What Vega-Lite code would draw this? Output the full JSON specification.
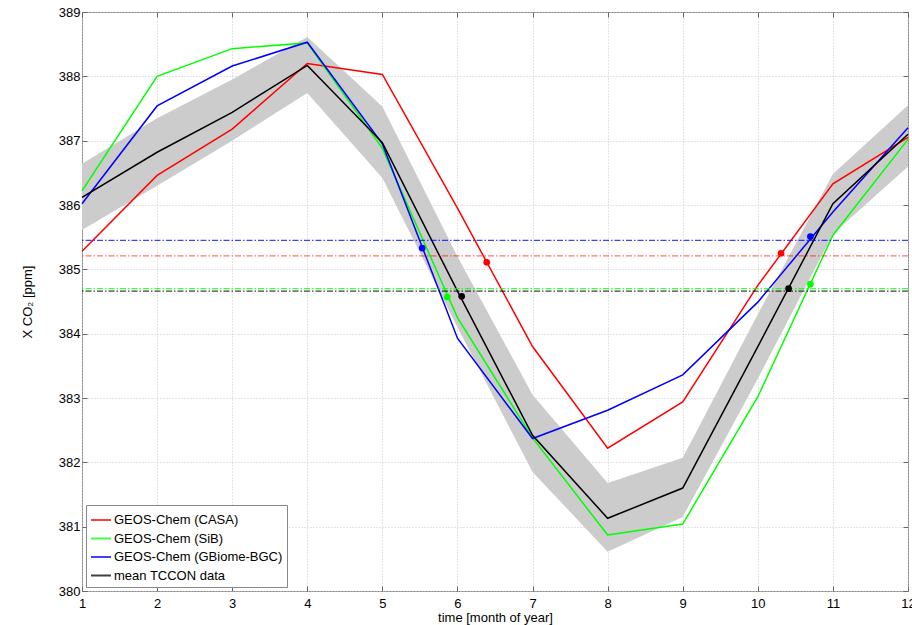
{
  "$schema": "https://vega.github.io/schema/vega-lite/v6.json",
  "width": 826,
  "height": 579,
  "autosize": {"type": "none"},
  "padding": {"left": 82, "top": 12, "right": 4, "bottom": 34},
  "background": "white",
  "config": {
    "font": "Liberation Sans",
    "view": {"stroke": "#888888", "strokeWidth": 1},
    "axis": {
      "grid": true,
      "gridColor": "#c8c8c8",
      "gridDash": [1, 2],
      "gridWidth": 1,
      "domain": false,
      "tickColor": "#666666",
      "tickSize": -5,
      "labelFontSize": 13,
      "labelColor": "#000000",
      "labelFlush": false,
      "titleFontSize": 13,
      "titleFontWeight": "normal",
      "titleColor": "#000000"
    },
    "legend": {
      "orient": "bottom-left",
      "offset": 4,
      "strokeColor": "#888888",
      "fillColor": "white",
      "padding": 4,
      "labelFontSize": 13,
      "labelColor": "#000000",
      "labelOffset": 2,
      "symbolType": "stroke",
      "symbolSize": 400,
      "symbolStrokeWidth": 2,
      "rowPadding": 0.5,
      "labelLimit": 300
    }
  },
  "datasets": {
    "band": [
      {"month": 1, "lo": 385.61, "hi": 386.64},
      {"month": 2, "lo": 386.30, "hi": 387.35},
      {"month": 3, "lo": 387.00, "hi": 387.95},
      {"month": 4, "lo": 387.74, "hi": 388.61},
      {"month": 5, "lo": 386.42, "hi": 387.53},
      {"month": 6, "lo": 384.10, "hi": 385.20},
      {"month": 7, "lo": 381.85, "hi": 383.05},
      {"month": 8, "lo": 380.61, "hi": 381.68},
      {"month": 9, "lo": 381.15, "hi": 382.07},
      {"month": 10, "lo": 383.30, "hi": 384.30},
      {"month": 11, "lo": 385.55, "hi": 386.48},
      {"month": 12, "lo": 386.60, "hi": 387.55}
    ],
    "levels": [
      {"series": "GEOS-Chem (GBiome-BGC)", "value": 385.45},
      {"series": "GEOS-Chem (CASA)", "value": 385.21},
      {"series": "GEOS-Chem (SiB)", "value": 384.70},
      {"series": "mean TCCON data", "value": 384.66}
    ],
    "lines": [
      {"series": "GEOS-Chem (CASA)", "month": 1, "value": 385.28},
      {"series": "GEOS-Chem (CASA)", "month": 2, "value": 386.46},
      {"series": "GEOS-Chem (CASA)", "month": 3, "value": 387.18},
      {"series": "GEOS-Chem (CASA)", "month": 4, "value": 388.20},
      {"series": "GEOS-Chem (CASA)", "month": 5, "value": 388.03},
      {"series": "GEOS-Chem (CASA)", "month": 6, "value": 385.95},
      {"series": "GEOS-Chem (CASA)", "month": 7, "value": 383.80},
      {"series": "GEOS-Chem (CASA)", "month": 8, "value": 382.22},
      {"series": "GEOS-Chem (CASA)", "month": 9, "value": 382.94},
      {"series": "GEOS-Chem (CASA)", "month": 10, "value": 384.75},
      {"series": "GEOS-Chem (CASA)", "month": 11, "value": 386.33},
      {"series": "GEOS-Chem (CASA)", "month": 12, "value": 387.05},
      {"series": "GEOS-Chem (SiB)", "month": 1, "value": 386.22},
      {"series": "GEOS-Chem (SiB)", "month": 2, "value": 388.00},
      {"series": "GEOS-Chem (SiB)", "month": 3, "value": 388.43},
      {"series": "GEOS-Chem (SiB)", "month": 4, "value": 388.52},
      {"series": "GEOS-Chem (SiB)", "month": 5, "value": 386.88},
      {"series": "GEOS-Chem (SiB)", "month": 6, "value": 384.25},
      {"series": "GEOS-Chem (SiB)", "month": 7, "value": 382.38},
      {"series": "GEOS-Chem (SiB)", "month": 8, "value": 380.87},
      {"series": "GEOS-Chem (SiB)", "month": 9, "value": 381.04},
      {"series": "GEOS-Chem (SiB)", "month": 10, "value": 383.02},
      {"series": "GEOS-Chem (SiB)", "month": 11, "value": 385.53},
      {"series": "GEOS-Chem (SiB)", "month": 12, "value": 387.02},
      {"series": "GEOS-Chem (GBiome-BGC)", "month": 1, "value": 386.02},
      {"series": "GEOS-Chem (GBiome-BGC)", "month": 2, "value": 387.54},
      {"series": "GEOS-Chem (GBiome-BGC)", "month": 3, "value": 388.16},
      {"series": "GEOS-Chem (GBiome-BGC)", "month": 4, "value": 388.53},
      {"series": "GEOS-Chem (GBiome-BGC)", "month": 5, "value": 386.95},
      {"series": "GEOS-Chem (GBiome-BGC)", "month": 6, "value": 383.93},
      {"series": "GEOS-Chem (GBiome-BGC)", "month": 7, "value": 382.37},
      {"series": "GEOS-Chem (GBiome-BGC)", "month": 8, "value": 382.81},
      {"series": "GEOS-Chem (GBiome-BGC)", "month": 9, "value": 383.36},
      {"series": "GEOS-Chem (GBiome-BGC)", "month": 10, "value": 384.49},
      {"series": "GEOS-Chem (GBiome-BGC)", "month": 11, "value": 385.89},
      {"series": "GEOS-Chem (GBiome-BGC)", "month": 12, "value": 387.20},
      {"series": "mean TCCON data", "month": 1, "value": 386.12},
      {"series": "mean TCCON data", "month": 2, "value": 386.82},
      {"series": "mean TCCON data", "month": 3, "value": 387.44},
      {"series": "mean TCCON data", "month": 4, "value": 388.17},
      {"series": "mean TCCON data", "month": 5, "value": 386.97},
      {"series": "mean TCCON data", "month": 6, "value": 384.66},
      {"series": "mean TCCON data", "month": 7, "value": 382.42},
      {"series": "mean TCCON data", "month": 8, "value": 381.13},
      {"series": "mean TCCON data", "month": 9, "value": 381.60},
      {"series": "mean TCCON data", "month": 10, "value": 383.80},
      {"series": "mean TCCON data", "month": 11, "value": 386.02},
      {"series": "mean TCCON data", "month": 12, "value": 387.10}
    ],
    "dots": [
      {"series": "GEOS-Chem (GBiome-BGC)", "month": 5.53, "value": 385.33},
      {"series": "GEOS-Chem (SiB)", "month": 5.865, "value": 384.57},
      {"series": "mean TCCON data", "month": 6.056, "value": 384.58},
      {"series": "GEOS-Chem (CASA)", "month": 6.39, "value": 385.11},
      {"series": "GEOS-Chem (CASA)", "month": 10.31, "value": 385.25},
      {"series": "GEOS-Chem (GBiome-BGC)", "month": 10.70, "value": 385.51},
      {"series": "mean TCCON data", "month": 10.41, "value": 384.70},
      {"series": "GEOS-Chem (SiB)", "month": 10.70, "value": 384.77}
    ]
  },
  "resolve": {"axis": {"x": "independent", "y": "independent"}},
  "layer": [
    {
      "data": {"name": "band"},
      "mark": {"type": "area", "color": "#cccccc", "opacity": 1},
      "encoding": {
        "x": {
          "field": "month", "type": "quantitative",
          "scale": {"domain": [1, 12], "nice": false, "zero": false},
          "axis": {"orient": "bottom", "values": [1,2,3,4,5,6,7,8,9,10,11,12], "format": "d", "title": "time [month of year]", "labelPadding": 11, "titlePadding": 1}
        },
        "y": {
          "field": "lo", "type": "quantitative",
          "scale": {"domain": [380, 389], "nice": false, "zero": false},
          "axis": {"orient": "left", "values": [380,381,382,383,384,385,386,387,388,389], "format": "d", "title": "X CO₂ [ppm]", "labelPadding": 7, "titlePadding": 24}
        },
        "y2": {"field": "hi"}
      }
    },
    {
      "data": {"name": "lines"},
      "mark": {"type": "line", "strokeWidth": 1.5},
      "encoding": {
        "x": {
          "field": "month", "type": "quantitative",
          "axis": {"orient": "top", "values": [1,2,3,4,5,6,7,8,9,10,11,12], "labels": false, "grid": false, "title": null}
        },
        "y": {
          "field": "value", "type": "quantitative",
          "axis": {"orient": "right", "values": [380,381,382,383,384,385,386,387,388,389], "labels": false, "grid": false, "title": null}
        },
        "color": {
          "field": "series", "type": "nominal",
          "scale": {
            "domain": ["GEOS-Chem (CASA)", "GEOS-Chem (SiB)", "GEOS-Chem (GBiome-BGC)", "mean TCCON data"],
            "range": ["#ff0000", "#00ff00", "#0000ff", "#000000"]
          },
          "legend": {"title": null, "symbolType": "stroke", "orient": "bottom-left"}
        },
        "order": {"field": "month"}
      }
    },
    {
      "data": {"name": "levels"},
      "mark": {"type": "rule", "strokeWidth": 1.2, "strokeDash": [6, 2, 1.5, 2]},
      "encoding": {
        "y": {"field": "value", "type": "quantitative", "axis": null},
        "color": {"field": "series", "type": "nominal"},
        "opacity": {"condition": {"test": "datum.series === 'GEOS-Chem (CASA)'", "value": 0.55}, "value": 0.75}
      }
    },
    {
      "data": {"name": "dots"},
      "mark": {"type": "circle", "size": 45, "opacity": 1},
      "encoding": {
        "x": {"field": "month", "type": "quantitative", "axis": null},
        "y": {"field": "value", "type": "quantitative", "axis": null},
        "color": {"field": "series", "type": "nominal"}
      }
    }
  ]
}
